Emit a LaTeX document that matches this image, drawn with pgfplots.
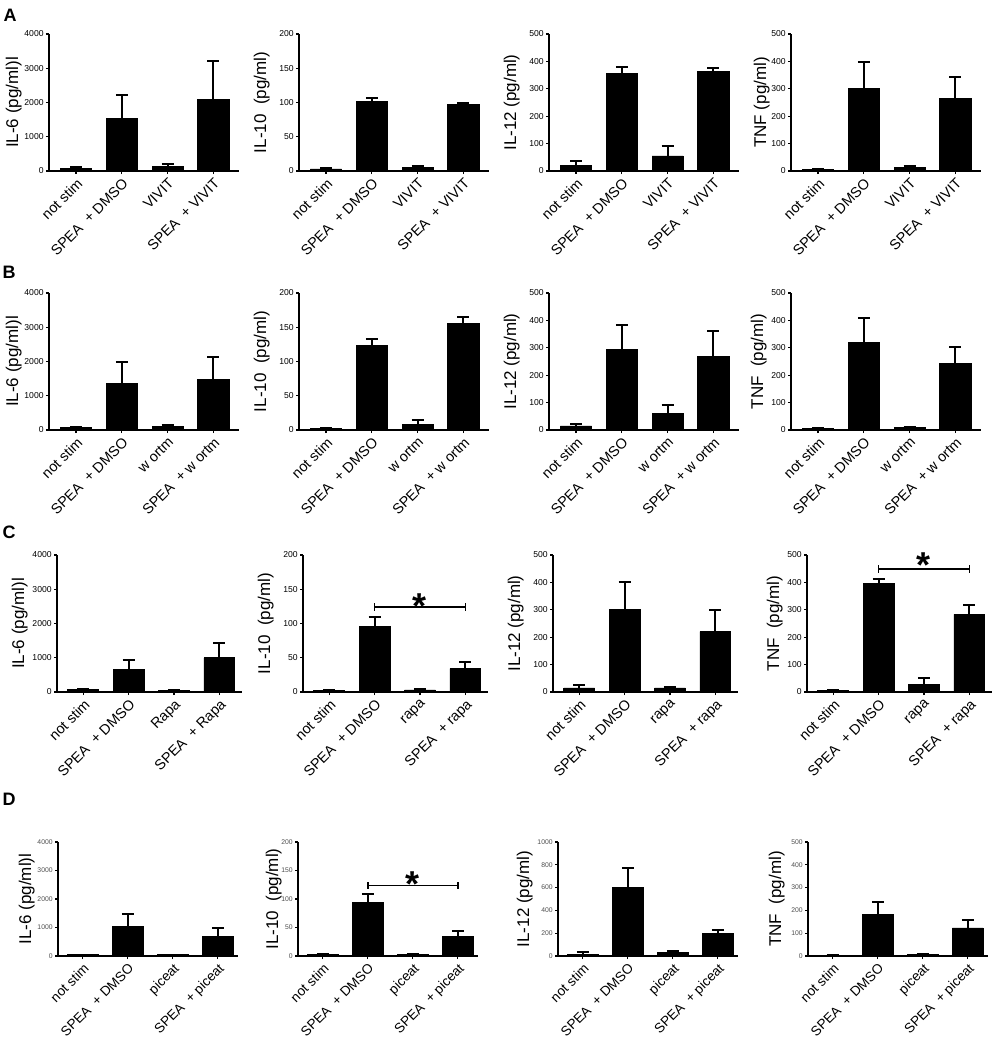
\documentclass[border=0pt]{standalone}
\usepackage{fontspec}
\setmainfont{Liberation Sans}
\usepackage{pgfplots}
\pgfplotsset{compat=1.18}

\pgfplotsset{
  panel/.style={
    scale only axis,
    axis x line*=bottom, axis y line*=left,
    axis line style={line width=1pt, -},
    ymin=0, clip=false,
    xtick={1,2,3,4},
    tick align=outside,
    major tick length=1.5pt,
    every tick/.style={black, line width=0.6pt},
    ybar, bar width=0.68,
    /pgf/number format/assume math mode=true,
    /pgf/number format/1000 sep={},
    scaled y ticks=false,
    yticklabel style={font=\fontsize{4.3}{5}\selectfont, inner sep=1pt},
    xticklabel style={rotate=45, anchor=north east, font=\fontsize{7.2}{8}\selectfont, inner sep=1pt},
    yl=13.5pt,
  },
  yl/.style={every axis y label/.style={at={(axis description cs:0,0.5)}, xshift=-#1, rotate=90, anchor=south, inner sep=0pt,
    font=\fontsize{8.5}{9}\selectfont}},
  pos/.style 2 args={at={(#1*0.5pt,-#2*0.5pt)}, anchor=south west},
  rowAB/.style={width=95pt, height=68.5pt, xmin=0.41, xmax=4.56},
  rowC/.style={width=92.5pt, height=68.5pt, xmin=0.42, xmax=4.5},
  rowD/.style={width=90pt, height=57pt, xmin=0.45, xmax=4.45, yl=11.5pt,
    yticklabel style={font=\fontsize{3.4}{4}\selectfont, text=black!70},
    xticklabel style={font=\fontsize{6.8}{7.5}\selectfont}},
  bars/.style={fill=black, draw=black,
    error bars/y dir=plus, error bars/y explicit,
    error bars/error bar style={line width=1pt, black},
    error bars/error mark options={rotate=90, mark size=3pt, line width=1pt, black}},
  il6/.style={ymax=4000, ytick={0,1000,...,4000}, ylabel={IL-6 (pg/ml)l}},
  il10/.style={ymax=200, ytick={0,50,...,200}, ylabel={IL-10\ \ (pg/ml)}, yl=14.5pt},
  il12/.style={ymax=500, ytick={0,100,...,500}, ylabel={IL-12 (pg/ml)}, yl=14.5pt},
  tnf/.style={ymax=500, ytick={0,100,...,500}, ylabel={TNF\ \ (pg/ml)}, yl=12pt},
}
\newcommand{\sig}[2]{%
  \draw[line width=0.8pt] (axis cs:2,#1) -- (axis cs:4,#1);
  \draw[line width=0.8pt] ([yshift=-1.8pt]axis cs:2,#1) -- ([yshift=1.8pt]axis cs:2,#1);
  \draw[line width=0.8pt] ([yshift=-1.8pt]axis cs:4,#1) -- ([yshift=1.8pt]axis cs:4,#1);
  \node[font=\bfseries\fontsize{18}{18}\selectfont, inner sep=0pt, yshift=-4pt] at (axis cs:3,#2) {*};
}

\begin{document}
\begin{tikzpicture}
\path[use as bounding box] (0,0) rectangle (500pt,-520.5pt);

% panel letters
\node[font=\bfseries\fontsize{9}{9}\selectfont] at (10*0.5pt,-15*0.5pt) {A};
\node[font=\bfseries\fontsize{9}{9}\selectfont] at (9*0.5pt,-272*0.5pt) {B};
\node[font=\bfseries\fontsize{9}{9}\selectfont] at (9*0.5pt,-532*0.5pt) {C};
\node[font=\bfseries\fontsize{9}{9}\selectfont] at (9*0.5pt,-799*0.5pt) {D};

% ---------------- row A ----------------
\begin{axis}[panel, rowAB, il6, pos={49}{171},
  xticklabels={not stim, SPEA\ \ + DMSO, VIVIT, SPEA\ \ + VIVIT}]
\addplot[bars] coordinates {(1,80) +- (0,40) (2,1530) +- (0,690) (3,130) +- (0,70) (4,2100) +- (0,1120)};
\end{axis}
\begin{axis}[panel, rowAB, il10, pos={299}{171},
  xticklabels={not stim, SPEA\ \ + DMSO, VIVIT, SPEA\ \ + VIVIT}]
\addplot[bars] coordinates {(1,3) +- (0,2) (2,102) +- (0,5) (3,5) +- (0,2) (4,97) +- (0,2)};
\end{axis}
\begin{axis}[panel, rowAB, il12, pos={549}{171},
  xticklabels={not stim, SPEA\ \ + DMSO, VIVIT, SPEA\ \ + VIVIT}]
\addplot[bars] coordinates {(1,20) +- (0,17) (2,355) +- (0,23) (3,55) +- (0,37) (4,365) +- (0,10)};
\end{axis}
\begin{axis}[panel, rowAB, tnf, pos={791}{171}, ylabel={TNF (pg/ml)}, yl=10.5pt,
  xticklabels={not stim, SPEA\ \ + DMSO, VIVIT, SPEA\ \ + VIVIT}]
\addplot[bars] coordinates {(1,5) +- (0,1) (2,300) +- (0,97) (3,12) +- (0,8) (4,265) +- (0,77)};
\end{axis}

% ---------------- row B ----------------
\begin{axis}[panel, rowAB, il6, pos={49}{430},
  xticklabels={not stim, SPEA\ \ + DMSO, w ortm, SPEA\ \ + w ortm}]
\addplot[bars] coordinates {(1,70) +- (0,30) (2,1370) +- (0,630) (3,100) +- (0,50) (4,1480) +- (0,640)};
\end{axis}
\begin{axis}[panel, rowAB, il10, pos={299}{430},
  xticklabels={not stim, SPEA\ \ + DMSO, w ortm, SPEA\ \ + w ortm}]
\addplot[bars] coordinates {(1,2) +- (0,1) (2,124) +- (0,9) (3,8) +- (0,6) (4,155) +- (0,10)};
\end{axis}
\begin{axis}[panel, rowAB, il12, pos={549}{430},
  xticklabels={not stim, SPEA\ \ + DMSO, w ortm, SPEA\ \ + w ortm}]
\addplot[bars] coordinates {(1,15) +- (0,8) (2,295) +- (0,90) (3,62) +- (0,30) (4,268) +- (0,94)};
\end{axis}
\begin{axis}[panel, rowAB, tnf, pos={791}{430},
  xticklabels={not stim, SPEA\ \ + DMSO, w ortm, SPEA\ \ + w ortm}]
\addplot[bars] coordinates {(1,5) +- (0,2) (2,318) +- (0,92) (3,8) +- (0,4) (4,242) +- (0,60)};
\end{axis}

% ---------------- row C ----------------
\begin{axis}[panel, rowC, il6, pos={57}{692}, yl=14.5pt,
  xticklabels={not stim, SPEA\ \ + DMSO, Rapa, SPEA\ \ + Rapa}]
\addplot[bars] coordinates {(1,70) +- (0,10) (2,670) +- (0,260) (3,50) +- (0,20) (4,1000) +- (0,440)};
\end{axis}
\begin{axis}[panel, rowC, il10, pos={303}{692},
  xticklabels={not stim, SPEA\ \ + DMSO, rapa, SPEA\ \ + rapa}]
\addplot[bars] coordinates {(1,2) +- (0,1) (2,96) +- (0,13) (3,3) +- (0,1) (4,34) +- (0,10)};
\sig{124}{137}
\end{axis}
\begin{axis}[panel, rowC, il12, pos={553}{692},
  xticklabels={not stim, SPEA\ \ + DMSO, rapa, SPEA\ \ + rapa}]
\addplot[bars] coordinates {(1,15) +- (0,10) (2,300) +- (0,100) (3,15) +- (0,5) (4,220) +- (0,80)};
\end{axis}
\begin{axis}[panel, rowC, tnf, pos={807}{692},
  xticklabels={not stim, SPEA\ \ + DMSO, rapa, SPEA\ \ + rapa}]
\addplot[bars] coordinates {(1,5) +- (0,1) (2,395) +- (0,17) (3,28) +- (0,22) (4,283) +- (0,34)};
\sig{449}{494}
\end{axis}

% ---------------- row D ----------------
\begin{axis}[panel, rowD, il6, pos={58}{956},
  xticklabels={not stim, SPEA\ \ + DMSO, piceat, SPEA\ \ + piceat}]
\addplot[bars] coordinates {(1,40) +- (0,5) (2,1050) +- (0,420) (3,40) +- (0,5) (4,700) +- (0,280)};
\end{axis}
\begin{axis}[panel, rowD, il10, pos={298}{956}, yl=8pt,
  xticklabels={not stim, SPEA\ \ + DMSO, piceat, SPEA\ \ + piceat}]
\addplot[bars] coordinates {(1,2) +- (0,1) (2,94) +- (0,15) (3,2) +- (0,1) (4,35) +- (0,9)};
\sig{124}{141}
\end{axis}
\begin{axis}[panel, rowD, pos={558}{956}, ymax=1000, ytick={0,200,...,1000}, ylabel={IL-12 (pg/ml)}, yl=12.5pt,
  xticklabels={not stim, SPEA\ \ + DMSO, piceat, SPEA\ \ + piceat}]
\addplot[bars] coordinates {(1,15) +- (0,20) (2,600) +- (0,175) (3,35) +- (0,10) (4,200) +- (0,30)};
\end{axis}
\begin{axis}[panel, rowD, tnf, pos={808}{956}, yl=11.5pt,
  xticklabels={not stim, SPEA\ \ + DMSO, piceat, SPEA\ \ + piceat}]
\addplot[bars] coordinates {(1,3) +- (0,2) (2,183) +- (0,54) (3,7) +- (0,3) (4,123) +- (0,35)};
\end{axis}
\end{tikzpicture}
\end{document}
